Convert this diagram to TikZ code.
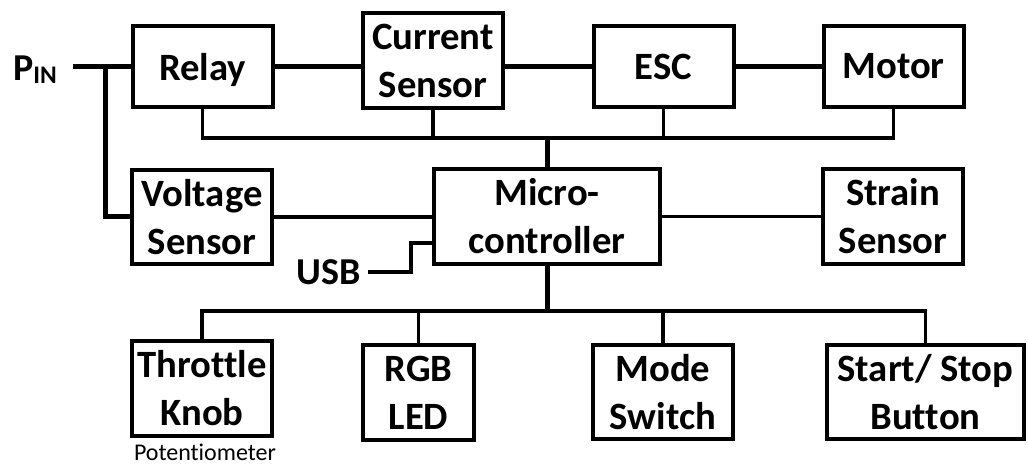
\documentclass[tikz,border=0pt]{standalone}
\usepackage{fontspec}
\setmainfont{Carlito}[Ligatures=NoCommon]
\begin{document}
\begin{tikzpicture}[x=0.75pt,y=-0.75pt,
    blok/.style={draw,line width=3pt,inner sep=0pt,align=center,
      minimum width=105pt,minimum height=71pt,
      font=\bfseries\fontsize{29}{36}\selectfont},
    label/.style={inner sep=0pt,font=\bfseries\fontsize{28.5}{34}\selectfont},
    power/.style={line width=3.75pt},
    sig/.style={line width=2.4pt}]
    \useasboundingbox (0,0) rectangle (1029,466);
    % --- blocchi: riga di potenza ---
    \node[blok,minimum height=61pt,text depth=0pt] (relay) at (202.5,66.5) {Relay};
    \node[blok] (cur) at (433,60.5) {Current\\Sensor};
    \node[blok,minimum height=61pt] (esc) at (663.5,66.5) {ESC};
    \node[blok,minimum height=61pt] (motor) at (893.5,66.5) {Motor};
    % --- riga centrale ---
    \node[blok] (volt) at (202,217) {Voltage\\Sensor};
    \node[blok,minimum width=169.5pt] (mcu) at (547,216.5) {Micro-\\controller};
    \node[blok] (strain) at (893,216.5) {Strain\\Sensor};
    % --- ingressi / uscite ---
    \node[blok] (thr) at (202,388.5) {Throttle\\Knob};
    \node[blok,minimum width=83pt] (rgb) at (418.5,392.5) {RGB\\LED};
    \node[blok] (mode) at (663,392) {Mode\\Switch};
    \node[blok,minimum width=148pt] (start) at (925.5,392) {Start/ Stop\\Button};
    \node[inner sep=0pt,font=\fontsize{18}{20}\selectfont] (pot) at (205,452) {Potentiometer};
    \node[label] (pin) at (35,70) {P\raisebox{-2pt}{\fontsize{19}{19}\selectfont IN}};
    \node[label] (usb) at (329,272) {USB};
    % --- linee di potenza ---
    \coordinate (pinwire) at (73,0);
    \coordinate (tap) at (105,0);
    \draw[power] (pinwire |- relay.west) -- (relay.west);
    \draw[power] (tap |- relay.west) -- (tap |- volt.west) -- (volt.west);
    \draw[power] (relay.east) -- (relay.east -| cur.west);
    \draw[power] (cur.east |- esc.west) -- (esc.west);
    \draw[power] (esc.east) -- (motor.west);
    % --- bus superiore ---
    \coordinate (bus) at (0,138);
    \draw[sig] (relay.south) -- (relay.south |- bus) -- (motor.south |- bus) -- (motor.south);
    \foreach \n in {cur,esc}{\draw[sig] (\n.south) -- (\n.south |- bus);}
    \draw[power] (mcu.north) -- (mcu.north |- bus);
    % --- segnali laterali ---
    \draw[sig] (volt.east) -- (volt.east -| mcu.west);
    \draw[sig] (mcu.east) -- (mcu.east -| strain.west);
    \coordinate (bend) at (411,0);
    \coordinate (usbin) at (432,243);
    \draw[sig] ([xshift=5pt]usb.east) -- (bend |- usb.east) -- (bend |- usbin) -- (usbin -| mcu.west);
    % --- bus inferiore ---
    \coordinate (lbus) at (0,311);
    \draw[power] (mcu.south) -- (mcu.south |- lbus);
    \draw[sig] (thr.north) -- (thr.north |- lbus) -- (start.north |- lbus) -- (start.north);
    \foreach \n in {rgb,mode}{\draw[sig] (\n.north) -- (\n.north |- lbus);}
\end{tikzpicture}
\end{document}
